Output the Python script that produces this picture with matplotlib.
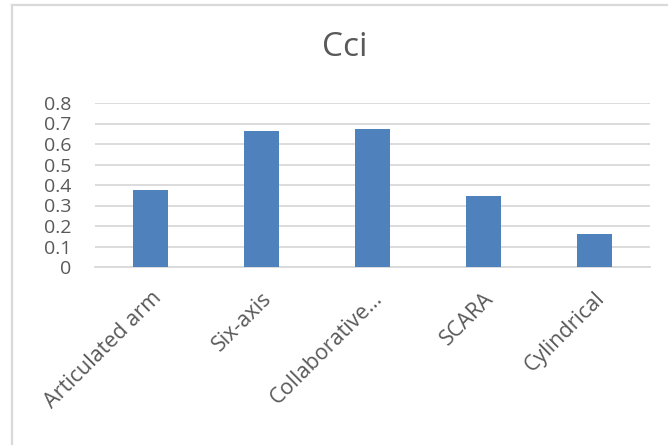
import matplotlib
matplotlib.use("Agg")
import matplotlib.pyplot as plt
from matplotlib.lines import Line2D
import numpy as np

# === DATA ===
categories = ["Articulated arm", "Six-axis", "Collaborative\u2026", "SCARA", "Cylindrical"]
values = [0.375, 0.663, 0.673, 0.346, 0.161]
yticks = [0, 0.1, 0.2, 0.3, 0.4, 0.5, 0.6, 0.7, 0.8]
ytick_labels = ["0", "0.1", "0.2", "0.3", "0.4", "0.5", "0.6", "0.7", "0.8"]

TEXT = "#595959"
GRID = "#d9d9d9"
BAR = "#4f81bd"

plt.rcParams['font.family'] = ['Open Sans', 'DejaVu Sans']

W, H = 668, 445
fig = plt.figure(figsize=(W / 100, H / 100), dpi=100)

# chart area border (left and top only visible)
fig.add_artist(Line2D([12 / W, 12 / W], [0, 1 - 5 / H], color=GRID, lw=1.6,
                      transform=fig.transFigure))
fig.add_artist(Line2D([12 / W, 1], [1 - 5 / H, 1 - 5 / H], color=GRID, lw=1.6,
                      transform=fig.transFigure))

ax = fig.add_axes([95 / W, (H - 267) / H, (650 - 95) / W, (267 - 103) / H])
x = np.arange(len(categories))
ax.bar(x, values, width=0.315, color=BAR, zorder=3)

ax.set_xlim(-0.5, len(categories) - 0.5)
ax.set_ylim(0, 0.8)
ax.set_yticks(yticks)
ax.set_yticklabels(ytick_labels)
ax.yaxis.grid(True, color=GRID, lw=1.3, zorder=0)
ax.set_axisbelow(True)
for s in ["top", "right", "left"]:
    ax.spines[s].set_visible(False)
ax.spines["bottom"].set_color(GRID)
ax.spines["bottom"].set_linewidth(1.3)

ax.tick_params(axis="y", length=0, pad=17, labelsize=14, labelcolor=TEXT)
ax.tick_params(axis="x", length=0, pad=15, labelsize=15.5, labelcolor=TEXT)
ax.set_xticks(x)
ax.set_xticklabels(categories, rotation=45, ha="right", rotation_mode="anchor")

fig.text(345 / W, 1 - 47 / H, "Cci", ha="center", va="center", fontsize=24, color=TEXT)

plt.savefig("out.png", dpi=100)
